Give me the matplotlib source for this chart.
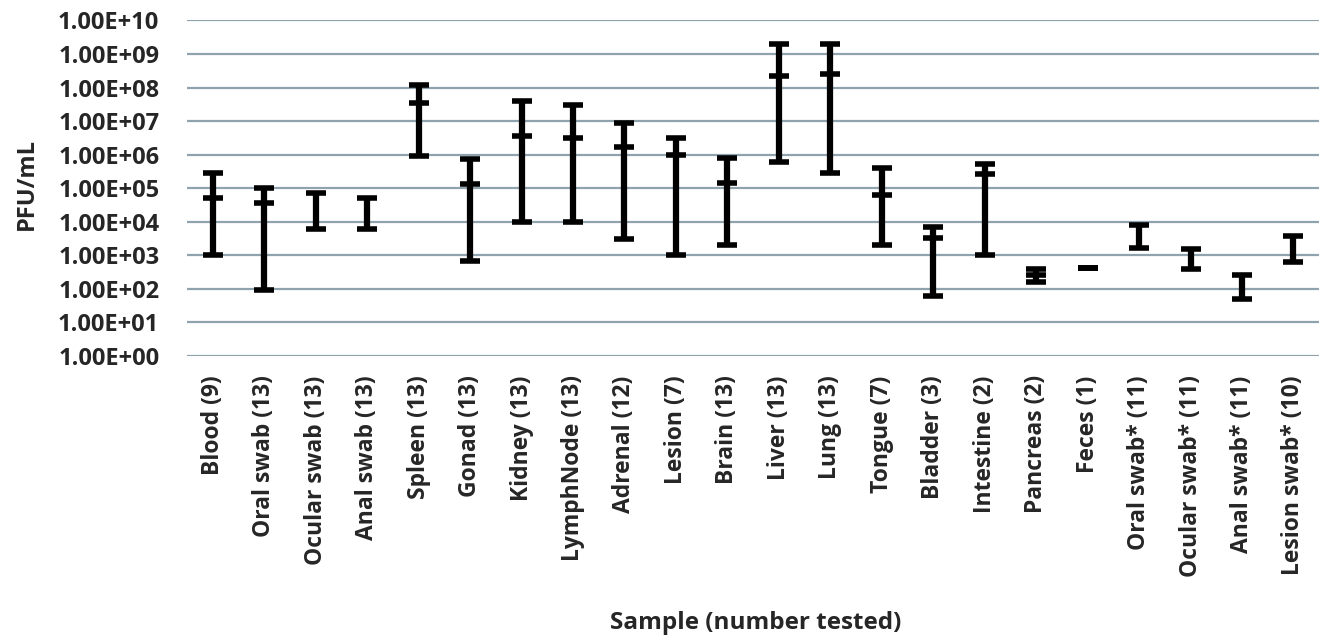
import numpy as np
import matplotlib.pyplot as plt
from matplotlib.ticker import FixedLocator, NullLocator

samples = ["Blood (9)", "Oral swab (13)", "Ocular swab (13)", "Anal swab (13)",
           "Spleen (13)", "Gonad (13)", "Kidney (13)", "LymphNode (13)",
           "Adrenal (12)", "Lesion (7)", "Brain (13)", "Liver (13)", "Lung (13)",
           "Tongue (7)", "Bladder (3)", "Intestine (2)", "Pancreas (2)",
           "Feces (1)", "Oral swab* (11)", "Ocular swab* (11)",
           "Anal swab* (11)", "Lesion swab* (10)"]

max_vals = [2.9e5, 1.0e5, 7.4e4, 5.0e4, 1.2e8, 7.3e5, 4.1e7, 3.0e7, 9.0e6, 3.1e6,
            7.8e5, 2.0e9, 2.0e9, 3.9e5, 6.8e3, 5.2e5, 3.8e2, 4.3e2, 8.0e3, 1.5e3,
            2.6e2, 3.8e3]
med_vals = [5.2e4, 3.5e4, np.nan, np.nan, 3.4e7, 1.3e5, 3.6e6, 3.1e6, 1.7e6, 9.8e5,
            1.4e5, 2.2e8, 2.5e8, 6.3e4, 3.3e3, 2.6e5, 2.6e2, 4.3e2, np.nan, np.nan,
            np.nan, np.nan]
min_vals = [1.0e3, 9.0e1, 6.0e3, 6.0e3, 9.0e5, 6.7e2, 1.0e4, 1.0e4, 3.0e3, 1.0e3,
            2.0e3, 6.2e5, 2.9e5, 2.0e3, 6.2e1, 1.0e3, 1.6e2, 4.3e2, 1.7e3, 4.0e2,
            4.8e1, 6.2e2]

txt = '#262626'
fig = plt.figure(figsize=(13.21, 6.4), dpi=100)
ax = fig.add_axes([0.1416, 0.444, 0.857, 0.524])

x = np.arange(len(samples))
ax.vlines(x, min_vals, max_vals, color='black', linewidth=4.5, zorder=3)
ax.plot(x, max_vals, ls='none', marker='_', ms=15, mew=4, color='black', zorder=3)
ax.plot(x, min_vals, ls='none', marker='_', ms=15, mew=4, color='black', zorder=3)
ax.plot(x, med_vals, ls='none', marker='_', ms=15, mew=4, color='black', zorder=3)

ax.set_yscale('log')
ax.set_ylim(1, 1e10)
ax.set_xlim(-0.5, len(samples) - 0.5)
ticks = [10.0 ** k for k in range(11)]
ax.yaxis.set_major_locator(FixedLocator(ticks))
ax.yaxis.set_minor_locator(NullLocator())
ax.set_yticklabels(["1.00E+%02d" % k for k in range(11)])
ax.grid(axis='y', color='#8fa3ae', linewidth=1.6, zorder=0)
ax.set_axisbelow(True)

ax.set_xticks(x)
ax.set_xticklabels(samples, rotation=90)
for s in ax.spines.values():
    s.set_visible(False)
ax.tick_params(axis='both', length=0)
ax.tick_params(axis='y', pad=20)
ax.tick_params(axis='x', pad=14)

for lab in ax.get_yticklabels():
    lab.set_fontfamily('Open Sans')
    lab.set_fontweight('bold')
    lab.set_fontsize(17)
    lab.set_color(txt)
for lab in ax.get_xticklabels():
    lab.set_fontfamily('Open Sans')
    lab.set_fontweight('bold')
    lab.set_fontsize(16.5)
    lab.set_color(txt)

fig.text(0.0204, 0.712, "PFU/mL", rotation=90, ha='center', va='center',
         fontfamily='Open Sans', fontweight='bold', fontsize=17, color=txt)
fig.text(0.572, 0.027, "Sample (number tested)", ha='center', va='center',
         fontfamily='Open Sans', fontweight='bold', fontsize=17.5, color=txt)

fig.savefig("out.png", dpi=100)
